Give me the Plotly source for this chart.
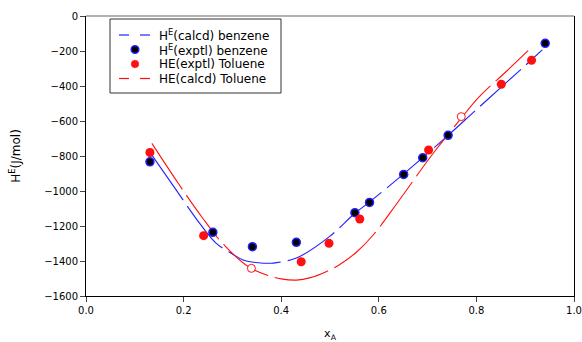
import plotly.graph_objects as go

# calculated curves
x_calc_benz = [0.135, 0.18, 0.233, 0.267, 0.30, 0.322, 0.353, 0.384, 0.424, 0.44, 0.50, 0.55, 0.58, 0.65, 0.70, 0.742, 0.80, 0.86, 0.90, 0.935]
y_calc_benz = [-795, -975, -1185, -1299, -1360, -1394, -1410, -1412, -1390, -1372, -1258, -1130, -1065, -905, -785, -682, -535, -384, -283, -194]

x_calc_tol = [0.135, 0.19, 0.237, 0.28, 0.333, 0.37, 0.40, 0.431, 0.46, 0.492, 0.52, 0.554, 0.589, 0.64, 0.71, 0.766, 0.806, 0.86, 0.906]
y_calc_tol = [-728, -960, -1147, -1300, -1433, -1480, -1502, -1509, -1495, -1461, -1420, -1350, -1250, -1060, -790, -594, -461, -320, -198]

# experimental points
x_exp_benz = [0.131, 0.26, 0.341, 0.431, 0.551, 0.581, 0.651, 0.69, 0.742, 0.941]
y_exp_benz = [-833, -1236, -1318, -1293, -1124, -1065, -905, -810, -682, -156]

x_exp_tol = [0.131, 0.241, 0.441, 0.498, 0.561, 0.702, 0.851, 0.913]
y_exp_tol = [-780, -1255, -1404, -1299, -1160, -766, -390, -253]

# hollow symbols sitting on the toluene curve
x_open = [0.339, 0.769]
y_open = [-1442, -575]

x_ticks = [0.0, 0.2, 0.4, 0.6, 0.8, 1.0]
x_tick_text = ["0.0", "0.2", "0.4", "0.6", "0.8", "1.0"]
y_ticks = [0, -200, -400, -600, -800, -1000, -1200, -1400, -1600]

legend_names = ["H<sup>E</sup>(calcd) benzene", "H<sup>E</sup>(exptl) benzene",
                "HE(exptl) Toluene", "HE(calcd) Toluene"]

BLUE = "#2020ff"
RED = "#ff1010"
DASH_PLOT = "55px,7px"
FONT = "DejaVu Sans, Arial, sans-serif"

W, H = 582, 342
ML, MR, MT, MB = 86, 8, 16, 46
PW, PH = W - ML - MR, H - MT - MB


def px(x):
    return (x - ML) / PW


def py(y):
    return (H - MB - y) / PH


fig = go.Figure()

fig.add_trace(go.Scatter(x=x_calc_benz, y=y_calc_benz, mode="lines", name=legend_names[0],
                         line=dict(color=BLUE, width=1.1, dash=DASH_PLOT, shape="spline"), showlegend=False))
fig.add_trace(go.Scatter(x=x_calc_tol, y=y_calc_tol, mode="lines", name=legend_names[3],
                         line=dict(color=RED, width=1.1, dash=DASH_PLOT, shape="spline"), showlegend=False))
fig.add_trace(go.Scatter(x=x_open, y=y_open, mode="markers",
                         marker=dict(color="white", size=8, line=dict(color=RED, width=1)), showlegend=False))
fig.add_trace(go.Scatter(x=x_exp_benz, y=y_exp_benz, mode="markers", name=legend_names[1],
                         marker=dict(color="black", size=8, line=dict(color=BLUE, width=1.5)), showlegend=False))
fig.add_trace(go.Scatter(x=x_exp_tol, y=y_exp_tol, mode="markers", name=legend_names[2],
                         marker=dict(color=RED, size=9), showlegend=False))

# hand-built legend box (pixel layout of the reference)
shapes = [
    dict(type="line", xref="paper", yref="paper", x0=0, x1=1, y0=1, y1=1,
         line=dict(color="#999999", width=1.5)),
    dict(type="rect", xref="paper", yref="paper", x0=px(110), x1=px(281), y0=py(93), y1=py(19),
         line=dict(color="#333333", width=1), fillcolor="white", layer="above"),
]
rows = [35, 49.5, 64, 78.5]
annotations = []
for i, (name, ry) in enumerate(zip(legend_names, rows)):
    annotations.append(dict(xref="paper", yref="paper", x=px(157), y=py(ry), text=name,
                            showarrow=False, xanchor="left", yanchor="middle",
                            font=dict(family=FONT, size=12, color="black")))
    if i in (0, 3):
        col = BLUE if i == 0 else RED
        for a, b in ((119, 129), (140, 150)):
            shapes.append(dict(type="line", xref="paper", yref="paper", x0=px(a), x1=px(b),
                               y0=py(ry), y1=py(ry), line=dict(color=col, width=1.2), layer="above"))
    else:
        r = 3.8
        if i == 1:
            fill, lc, lw = "black", BLUE, 1.5
        else:
            fill, lc, lw = RED, RED, 0.5
        shapes.append(dict(type="circle", xref="paper", yref="paper", x0=px(135 - r), x1=px(135 + r),
                           y0=py(ry + r), y1=py(ry - r), fillcolor=fill, line=dict(color=lc, width=lw),
                           layer="above"))

fig.update_layout(
    width=W, height=H,
    margin=dict(l=ML, r=MR, t=MT, b=MB, autoexpand=False),
    paper_bgcolor="white", plot_bgcolor="white",
    font=dict(family=FONT, size=10, color="black"),
    showlegend=False,
    shapes=shapes,
    annotations=annotations,
)
fig.update_xaxes(range=[0, 1], tickvals=x_ticks, ticktext=x_tick_text, ticks="outside", ticklen=5,
                 showline=True, linecolor="black", linewidth=1, showgrid=False, zeroline=False,
                 automargin=False, ticklabeloverflow="allow",
                 title=dict(text="x<sub>A</sub>", font=dict(size=11), standoff=14))
fig.update_yaxes(range=[-1600, 0], tickvals=y_ticks, ticks="outside", ticklen=5,
                 showline=True, linecolor="black", linewidth=1, mirror=True, showgrid=False, zeroline=False,
                 automargin=False, ticklabeloverflow="allow",
                 title=dict(text="H<sup>E</sup>(J/mol)", font=dict(size=12), standoff=20))

fig.write_html("out.html",
               config={"displayModeBar": False, "responsive": False},
               post_script="document.body.style.margin='0';document.body.style.overflow='hidden';")
